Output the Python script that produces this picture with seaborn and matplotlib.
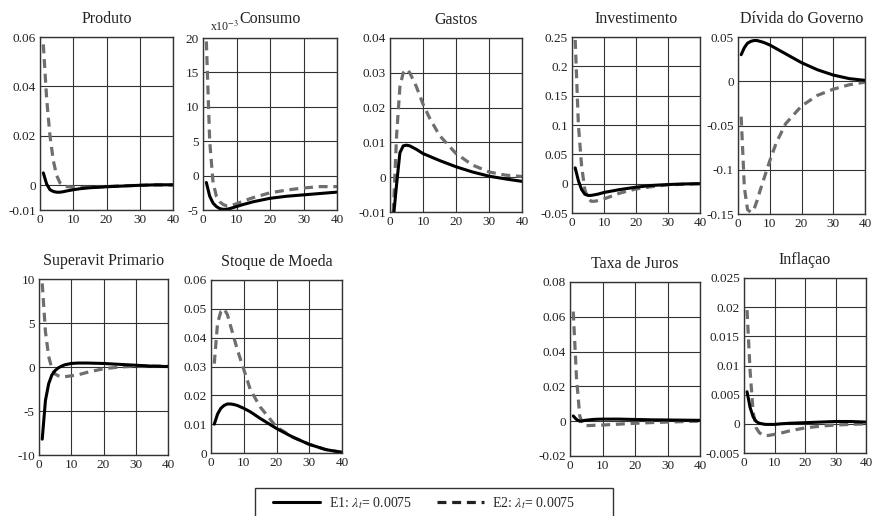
import matplotlib
matplotlib.use("Agg")
import matplotlib.pyplot as plt
import seaborn as sns
from matplotlib.lines import Line2D
from matplotlib.patches import Rectangle
from matplotlib.ticker import FuncFormatter

# periods (horizon)
periods = [1, 2, 3, 4, 5, 6, 7, 8, 10, 12, 15, 20, 25, 30, 35, 40]

produto_e1 = [0.005, 0.0005, -0.0018, -0.0025, -0.0028, -0.0028, -0.0026, -0.0023, -0.0018, -0.0014, -0.001, -0.0006, -0.0003, 0.0, 0.0002, 0.0002]
produto_e2 = [0.057, 0.035, 0.02, 0.01, 0.004, 0.001, 0.0, -0.0005, -0.0008, -0.0009, -0.0008, -0.0005, -0.0002, 0.0, 0.0001, 0.0001]

# consumo in units of 1e-3
consumo_e1 = [-1.0, -3.0, -4.0, -4.5, -4.8, -4.9, -4.9, -4.8, -4.5, -4.2, -3.8, -3.3, -3.0, -2.8, -2.6, -2.4]
consumo_e2 = [19.5, 5.0, -1.0, -3.0, -3.8, -4.2, -4.4, -4.4, -4.1, -3.7, -3.2, -2.5, -2.1, -1.8, -1.6, -1.6]

gastos_e1 = [-0.012, -0.002, 0.007, 0.009, 0.0092, 0.009, 0.0085, 0.008, 0.0068, 0.006, 0.0048, 0.003, 0.0015, 0.0003, -0.0005, -0.0012]
gastos_e2 = [-0.01, 0.012, 0.026, 0.030, 0.031, 0.030, 0.028, 0.026, 0.021, 0.017, 0.012, 0.0068, 0.0035, 0.0015, 0.0006, 0.0002]

invest_e1 = [0.027, 0.005, -0.01, -0.018, -0.02, -0.02, -0.019, -0.018, -0.015, -0.013, -0.01, -0.006, -0.003, -0.0015, -0.0005, 0.0]
invest_e2 = [0.245, 0.1, 0.03, -0.01, -0.025, -0.03, -0.03, -0.029, -0.026, -0.022, -0.016, -0.009, -0.005, -0.002, -0.001, 0.0]

divida_e1 = [0.03, 0.038, 0.043, 0.045, 0.046, 0.046, 0.045, 0.044, 0.041, 0.037, 0.031, 0.021, 0.013, 0.007, 0.003, 0.001]
divida_e2 = [-0.04, -0.12, -0.145, -0.148, -0.145, -0.135, -0.123, -0.112, -0.09, -0.07, -0.048, -0.028, -0.016, -0.009, -0.004, -0.001]

superavit_e1 = [-8.2, -3.8, -1.9, -0.9, -0.4, -0.1, 0.1, 0.25, 0.4, 0.45, 0.45, 0.4, 0.3, 0.2, 0.1, 0.05]
superavit_e2 = [9.5, 4.0, 1.2, -0.2, -0.8, -1.0, -1.1, -1.1, -1.0, -0.9, -0.6, -0.2, 0.0, 0.1, 0.1, 0.1]

moeda_e1 = [0.01, 0.0135, 0.0155, 0.0165, 0.017, 0.017, 0.0168, 0.0165, 0.0155, 0.0143, 0.012, 0.0085, 0.0055, 0.003, 0.0012, 0.0002]
moeda_e2 = [0.031, 0.045, 0.049, 0.05, 0.048, 0.044, 0.04, 0.036, 0.029, 0.022, 0.016, 0.009, 0.0055, 0.003, 0.0012, 0.0003]

juros_e1 = [0.003, 0.001, 0.0, 0.0003, 0.0006, 0.0008, 0.001, 0.0011, 0.0012, 0.0012, 0.0012, 0.001, 0.0008, 0.0007, 0.0006, 0.0005]
juros_e2 = [0.063, 0.025, 0.003, -0.002, -0.0025, -0.0025, -0.0024, -0.0023, -0.0022, -0.002, -0.0017, -0.0012, -0.0008, -0.0005, -0.0002, 0.0]

inflacao_e1 = [0.0055, 0.0028, 0.0012, 0.0004, 0.0001, 0.0, -0.0001, -0.0001, -0.0001, 0.0, 0.0001, 0.0002, 0.0003, 0.0004, 0.0004, 0.0003]
inflacao_e2 = [0.0195, 0.009, 0.002, -0.0007, -0.0015, -0.0019, -0.002, -0.002, -0.0018, -0.0016, -0.0012, -0.0007, -0.0004, -0.0002, -0.0001, 0.0]

x_ticks = [0, 10, 20, 30, 40]
legend_labels = [r"E1: $\lambda_t$= 0.0075", r"E2: $\lambda_t$= 0.0075"]

sns.set_theme(style="white")
plt.rcParams["font.family"] = ["Liberation Serif", "DejaVu Serif"]
plt.rcParams["mathtext.fontset"] = "stix"
plt.rcParams["axes.unicode_minus"] = False

W, H = 873, 516
fig = plt.figure(figsize=(W / 100, H / 100), dpi=100)


def rect(x0, y0, x1, y1):
    # pixel box -> figure fraction
    return [x0 / W, 1 - y1 / H, (x1 - x0) / W, (y1 - y0) / H]


panels = [
    ("Produto", produto_e1, produto_e2, (-0.01, 0.06), [-0.01, 0, 0.02, 0.04, 0.06], (40, 37, 173, 210)),
    ("Consumo", consumo_e1, consumo_e2, (-5, 20), [-5, 0, 5, 10, 15, 20], (203, 38, 337, 210)),
    ("Gastos", gastos_e1, gastos_e2, (-0.01, 0.04), [-0.01, 0, 0.01, 0.02, 0.03, 0.04], (390, 38, 522, 212)),
    ("Investimento", invest_e1, invest_e2, (-0.05, 0.25), [-0.05, 0, 0.05, 0.1, 0.15, 0.2, 0.25], (572, 37, 700, 213)),
    ("Dívida do Governo", divida_e1, divida_e2, (-0.15, 0.05), [-0.15, -0.1, -0.05, 0, 0.05], (738, 37, 865, 214)),
    ("Superavit Primario", superavit_e1, superavit_e2, (-10, 10), [-10, -5, 0, 5, 10], (39, 279, 168, 455)),
    ("Stoque de Moeda", moeda_e1, moeda_e2, (0, 0.06), [0, 0.01, 0.02, 0.03, 0.04, 0.05, 0.06], (211, 280, 342, 453)),
    ("Taxa de Juros", juros_e1, juros_e2, (-0.02, 0.08), [-0.02, 0, 0.02, 0.04, 0.06, 0.08], (570, 282, 700, 456)),
    ("Inflaçao", inflacao_e1, inflacao_e2, (-0.005, 0.025), [-0.005, 0, 0.005, 0.01, 0.015, 0.02, 0.025], (744, 278, 866, 453)),
]

fmt = FuncFormatter(lambda v, pos: "0" if abs(v) < 1e-12 else "%g" % v)
dash = (0, (2.8, 1.8))

for title, e1, e2, ylim, yticks, box in panels:
    ax = fig.add_axes(rect(*box))
    sns.lineplot(x=periods, y=e2, ax=ax, color="#6e6e6e", lw=2.3, linestyle=dash)
    sns.lineplot(x=periods, y=e1, ax=ax, color="black", lw=2.2)
    ax.set_xlim(0, 40)
    ax.set_ylim(*ylim)
    ax.set_xticks(x_ticks)
    ax.set_yticks(yticks)
    ax.yaxis.set_major_formatter(fmt)
    ax.grid(True, color="#333333", lw=0.8)
    ax.set_axisbelow(True)
    ax.tick_params(length=0, labelsize=9.5, pad=3, colors="#222222")
    for s in ax.spines.values():
        s.set_color("#333333")
        s.set_linewidth(1.0)
    ax.set_title(title, fontsize=11.5, pad=11 if title == "Consumo" else 10, color="#222222")
    if title == "Consumo":
        ax.annotate(r"x10$^{-3}$", xy=(0, 1), xycoords="axes fraction", xytext=(5, 3),
                    textcoords="offset points", fontsize=8.5, color="#222222", ha="left", va="bottom")

# legend box runs past the bottom edge, as in the reference
fig.patches.append(Rectangle((255 / W, -0.05), (613 - 255) / W, 0.05 + 1 - 488 / H,
                             transform=fig.transFigure, fill=False, edgecolor="#333333", lw=1.0))
handles = [Line2D([], [], color="black", lw=2.2),
           Line2D([], [], color="#222222", lw=2.3, linestyle=dash)]
fig.legend(handles, legend_labels, loc="center left", bbox_to_anchor=(273 / W, 1 - 503 / H),
           ncol=2, frameon=False, fontsize=10, handlelength=3.4, handletextpad=0.6,
           columnspacing=1.8, borderpad=0, borderaxespad=0)

plt.savefig("out.png", dpi=100)
